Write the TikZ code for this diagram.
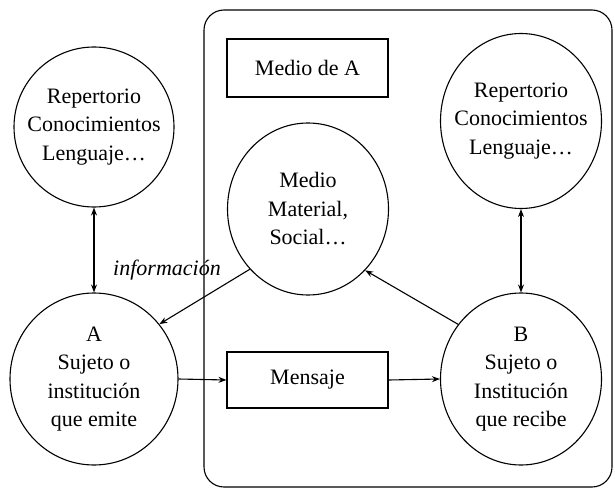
\documentclass[tikz,border=0pt]{standalone}
\usepackage{fontspec}
\setmainfont{Liberation Serif}
\usetikzlibrary{shapes.geometric,arrows.meta}
\begin{document}
\begin{tikzpicture}[x=1pt,y=-1pt,
  txt/.style={font=\fontsize{22}{28.5}\selectfont, align=center, inner sep=0pt},
  ell/.style={ellipse, draw, line width=1.1pt, inner sep=0pt},
  boxn/.style={rectangle, draw, line width=1.1pt, txt},
  conn/.style={line width=1.1pt, -{Stealth[length=8pt,width=6pt]}},
  dconn/.style={line width=1.1pt, {Stealth[length=8pt,width=6pt]}-{Stealth[length=8pt,width=6pt]}}]
\useasboundingbox (0,0) rectangle (615,489);
\draw[line width=1.1pt, rounded corners=20pt] (204,10) rectangle (612,487);
\node[ell, minimum width=160pt, minimum height=160pt,
  label={[txt]center:Repertorio\\Conocimientos\\Lenguaje\ldots}] (repL) at (94,127) {};
\node[ell, minimum width=168pt, minimum height=172pt,
  label={[txt]center:A\\Sujeto o\\institución\\que emite}] (A) at (94,379) {};
\node[ell, minimum width=161pt, minimum height=172pt,
  label={[txt]center:Medio\\Material,\\Social\ldots}] (medio) at (308,209) {};
\node[ell, minimum width=161pt, minimum height=175pt,
  label={[txt]center:Repertorio\\Conocimientos\\Lenguaje\ldots}] (repR) at (521,121) {};
\node[ell, minimum width=161pt, minimum height=172pt,
  label={[txt]center:B\\Sujeto o\\Institución\\que recibe}] (B) at (521,379) {};
\node[boxn, minimum width=161pt, minimum height=58pt] (medioA) at (307.5,68) {Medio de A};
\node[boxn, minimum width=161pt, minimum height=56pt] (mensaje) at (307.5,380) {Mensaje};
\node[txt, font=\fontsize{22}{28.5}\selectfont\itshape] (info) at (167,270) {información};
\draw[dconn] (repL.south) -- (A.north);
\draw[dconn] (repR.south) -- (B.north);
\draw[conn] (medio.226) -- (A.40);
\draw[conn] (B.139) -- (medio.313);
\draw[conn] (A.east) -- (mensaje.west);
\draw[conn] (mensaje.east) -- (B.west);
\end{tikzpicture}
\end{document}
